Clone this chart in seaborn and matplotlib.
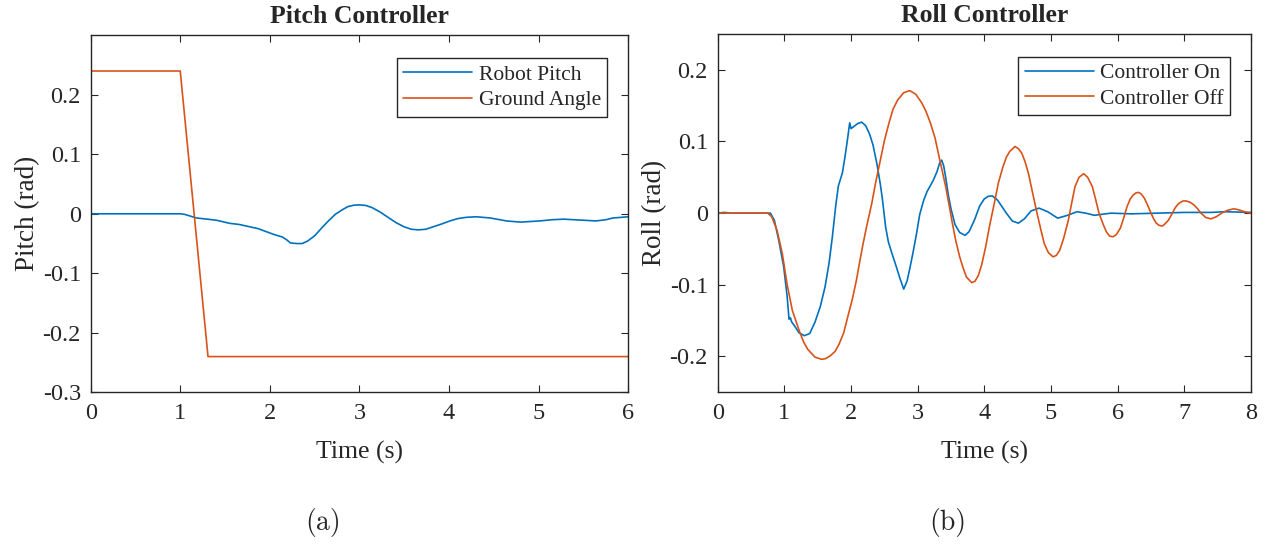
import seaborn as sns
import matplotlib.pyplot as plt

# --- pitch controller (a) ---
pitch_t = [0, 0.5, 1.0, 1.05, 1.18, 1.3, 1.41, 1.55, 1.66, 1.78, 1.87, 1.96, 2.05, 2.14, 2.19, 2.23,
           2.3, 2.36, 2.42, 2.5, 2.59, 2.66, 2.73, 2.8, 2.87, 2.94, 3.0, 3.07, 3.14, 3.23, 3.32, 3.41,
           3.5, 3.58, 3.66, 3.74, 3.82, 3.92, 4.01, 4.1, 4.19, 4.3, 4.46, 4.64, 4.8, 5.01, 5.15, 5.28,
           5.46, 5.64, 5.75, 5.83, 5.92, 6.0]
pitch_robot = [0, 0, 0, -0.001, -0.007, -0.009, -0.011, -0.016, -0.018, -0.022, -0.025, -0.03, -0.035,
               -0.039, -0.044, -0.049, -0.05, -0.05, -0.046, -0.037, -0.022, -0.011, -0.001, 0.006,
               0.012, 0.0145, 0.015, 0.014, 0.0105, 0.003, -0.006, -0.015, -0.022, -0.026, -0.027,
               -0.026, -0.022, -0.017, -0.012, -0.008, -0.006, -0.005, -0.007, -0.012, -0.014, -0.012,
               -0.01, -0.009, -0.0105, -0.012, -0.01, -0.007, -0.006, -0.005]
ground_t = [0, 1.0, 1.31, 6.0]
ground_angle = [0.24, 0.24, -0.24, -0.24]

# --- roll controller (b) ---
on_t = [0, 0.1, 0.2, 0.79, 0.85, 0.92, 0.99, 1.04, 1.07, 1.09, 1.11, 1.15, 1.22, 1.3, 1.38, 1.46,
        1.54, 1.61, 1.67, 1.72, 1.77, 1.81, 1.87, 1.91, 1.95, 1.98, 2.0, 2.03, 2.1, 2.16, 2.22, 2.28,
        2.33, 2.39, 2.44, 2.47, 2.52, 2.56, 2.62, 2.68, 2.73, 2.79, 2.84, 2.88, 2.93, 2.98, 3.03,
        3.09, 3.14, 3.2, 3.24, 3.29, 3.33, 3.36, 3.39, 3.42, 3.46, 3.5, 3.56, 3.63, 3.71, 3.77, 3.85,
        3.93, 4.0, 4.06, 4.12, 4.2, 4.33, 4.42, 4.51, 4.6, 4.7, 4.82, 4.95, 5.1, 5.25, 5.39, 5.52,
        5.65, 5.9, 6.2, 6.6, 7.0, 7.4, 7.6, 8.0]
roll_on = [0, 0.001, 0, 0, -0.01, -0.04, -0.075, -0.115, -0.148, -0.146, -0.152, -0.157, -0.167,
           -0.171, -0.168, -0.152, -0.13, -0.103, -0.07, -0.033, 0.01, 0.038, 0.056, 0.079, 0.105,
           0.126, 0.118, 0.12, 0.125, 0.127, 0.122, 0.11, 0.095, 0.068, 0.04, 0.02, -0.02, -0.04,
           -0.058, -0.075, -0.09, -0.106, -0.095, -0.078, -0.055, -0.03, -0.002, 0.018, 0.03, 0.04,
           0.047, 0.058, 0.07, 0.074, 0.066, 0.05, 0.025, 0.006, -0.016, -0.027, -0.031, -0.026,
           -0.01, 0.01, 0.02, 0.0235, 0.024, 0.018, 0, -0.011, -0.014, -0.008, 0.003, 0.007, 0.002,
           -0.007, -0.003, 0.002, 0, -0.003, 0, -0.001, 0, 0.001, 0.001, 0.002, 0.001]
off_t = [0, 0.75, 0.81, 0.89, 0.97, 1.04, 1.12, 1.23, 1.29, 1.35, 1.46, 1.56, 1.62, 1.69, 1.76,
         1.82, 1.89, 1.95, 2.02, 2.08, 2.13, 2.18, 2.24, 2.31, 2.37, 2.44, 2.5, 2.57, 2.63, 2.7,
         2.79, 2.88, 2.97, 3.06, 3.12, 3.19, 3.26, 3.32, 3.37, 3.42, 3.47, 3.52, 3.57, 3.63, 3.68,
         3.73, 3.81, 3.86, 3.91, 3.96, 4.02, 4.08, 4.15, 4.21, 4.28, 4.33, 4.38, 4.46, 4.51, 4.56,
         4.61, 4.66, 4.72, 4.79, 4.85, 4.9, 4.96, 5.03, 5.08, 5.13, 5.19, 5.26, 5.31, 5.36, 5.42,
         5.49, 5.55, 5.62, 5.67, 5.72, 5.78, 5.83, 5.88, 5.93, 5.98, 6.04, 6.09, 6.14, 6.19, 6.23,
         6.27, 6.31, 6.35, 6.4, 6.45, 6.5, 6.54, 6.58, 6.62, 6.67, 6.71, 6.76, 6.81, 6.86, 6.9,
         6.94, 6.98, 7.03, 7.09, 7.15, 7.2, 7.25, 7.32, 7.4, 7.48, 7.56, 7.65, 7.74, 7.8, 7.87,
         7.94, 8.0]
roll_off = [0, 0, -0.005, -0.024, -0.057, -0.099, -0.136, -0.166, -0.18, -0.19, -0.201, -0.204,
            -0.203, -0.199, -0.193, -0.183, -0.167, -0.145, -0.12, -0.094, -0.068, -0.043, -0.016,
            0.013, 0.043, 0.074, 0.101, 0.126, 0.145, 0.158, 0.168, 0.171, 0.166, 0.154, 0.143,
            0.126, 0.105, 0.079, 0.058, 0.037, 0.012, -0.014, -0.038, -0.061, -0.076, -0.089,
            -0.097, -0.095, -0.087, -0.072, -0.047, -0.017, 0.014, 0.042, 0.065, 0.078, 0.086,
            0.093, 0.09, 0.084, 0.072, 0.056, 0.03, 0, -0.024, -0.043, -0.055, -0.061, -0.059,
            -0.052, -0.035, -0.01, 0.014, 0.037, 0.05, 0.055, 0.05, 0.037, 0.019, 0, -0.015,
            -0.026, -0.032, -0.033, -0.03, -0.021, -0.007, 0.009, 0.02, 0.025, 0.028, 0.029, 0.027,
            0.021, 0.011, 0, -0.008, -0.014, -0.017, -0.018, -0.015, -0.01, -0.002, 0.007, 0.012,
            0.015, 0.017, 0.017, 0.015, 0.011, 0.006, 0, -0.006, -0.008, -0.005, 0, 0.004, 0.006,
            0.005, 0.003, 0.001, 0]

blue, orange = "#0072BD", "#D95319"

sns.set_theme(style="ticks")
plt.rcParams['font.family'] = ['Liberation Serif', 'DejaVu Serif']
plt.rcParams.update({
    'xtick.direction': 'in', 'ytick.direction': 'in',
    'xtick.top': True, 'ytick.right': True,
    'xtick.major.size': 5, 'ytick.major.size': 5,
    'xtick.major.pad': 8, 'ytick.major.pad': 7,
    'axes.edgecolor': '#262626', 'axes.linewidth': 1.0,
})

fig = plt.figure(figsize=(12.73, 5.44), dpi=100)
ax1 = fig.add_axes([0.0712, 0.2789, 0.4223, 0.6562])
ax2 = fig.add_axes([0.5638, 0.2789, 0.4189, 0.6586])

sns.lineplot(x=pitch_t, y=pitch_robot, ax=ax1, color=blue, lw=1.2, label="Robot Pitch")
sns.lineplot(x=ground_t, y=ground_angle, ax=ax1, color=orange, lw=1.2, label="Ground Angle")
sns.lineplot(x=on_t, y=roll_on, ax=ax2, color=blue, lw=1.2, label="Controller On")
sns.lineplot(x=off_t, y=roll_off, ax=ax2, color=orange, lw=1.2, label="Controller Off")

ax1.set_xlim(0, 6)
ax1.set_ylim(-0.3, 0.3)
ax1.set_yticks([-0.3, -0.2, -0.1, 0, 0.1, 0.2])
ax1.set_yticklabels(["-0.3", "-0.2", "-0.1", "0", "0.1", "0.2"])
ax1.set_xticks(range(7))
ax1.set_title("Pitch Controller", fontsize=18.5, fontweight="bold", pad=9)
ax1.set_xlabel("Time (s)", fontsize=18.5, labelpad=12)
ax1.set_ylabel("Pitch (rad)", fontsize=19.5, labelpad=2)

ax2.set_xlim(0, 8)
ax2.set_ylim(-0.25, 0.25)
ax2.set_yticks([-0.2, -0.1, 0, 0.1, 0.2])
ax2.set_yticklabels(["-0.2", "-0.1", "0", "0.1", "0.2"])
ax2.set_xticks(range(9))
ax2.set_title("Roll Controller", fontsize=18.5, fontweight="bold", pad=9)
ax2.set_xlabel("Time (s)", fontsize=18.5, labelpad=12)
ax2.set_ylabel("Roll (rad)", fontsize=19.5, labelpad=2)

for ax in (ax1, ax2):
    ax.tick_params(labelsize=17.5, color='#262626', width=0.8)
    ax.legend(loc="upper right", bbox_to_anchor=(0.961, 0.936), borderaxespad=0,
              fontsize=15.5, fancybox=False, edgecolor='#262626', framealpha=1,
              handlelength=3.2, handletextpad=0.3, borderpad=0.3, labelspacing=0.25)
    ax.get_legend().get_frame().set_linewidth(1.0)

fig.text(0.2535, 0.04, "(a)", fontsize=20, family="cmr10", ha="center", va="center")
fig.text(0.7445, 0.04, "(b)", fontsize=20, family="cmr10", ha="center", va="center")

fig.savefig("out.png", dpi=100)
